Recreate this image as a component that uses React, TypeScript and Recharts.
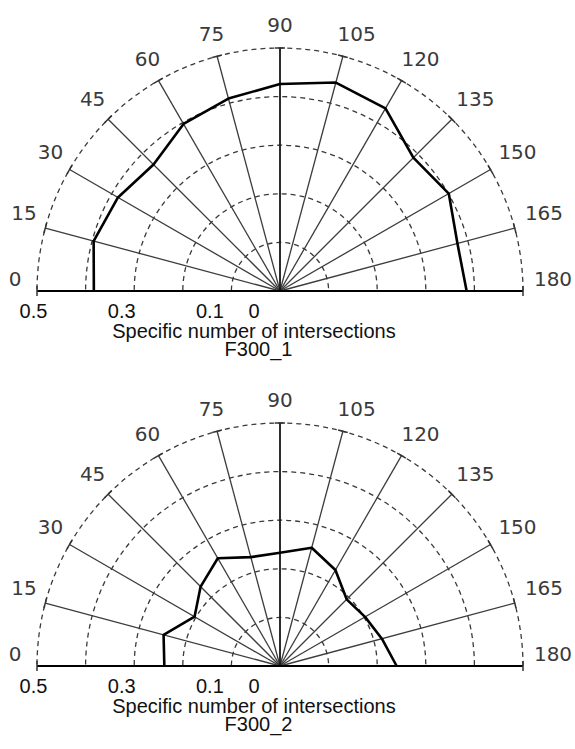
import React from 'react';
import { RadarChart, Radar, PolarGrid, PolarAngleAxis, PolarRadiusAxis } from 'recharts';

const angles = [0, 15, 30, 45, 60, 75, 90, 105, 120, 135, 150, 165, 180];
const f300_1 = [0.383, 0.397, 0.385, 0.368, 0.397, 0.41, 0.426, 0.444, 0.434, 0.388, 0.401, 0.378, 0.384];
const f300_2 = [0.238, 0.248, 0.203, 0.231, 0.256, 0.232, 0.233, 0.252, 0.228, 0.194, 0.202, 0.217, 0.24];
const angleTicks = [0, 15, 30, 45, 60, 75, 90, 105, 120, 135, 150, 165, 180];
const radiusTicks = [0, 0.1, 0.2, 0.3, 0.4, 0.5];
const radiusLabels = [0, 0.1, 0.3, 0.5];
const axisTitle = 'Specific number of intersections';
const panelTitles = ['F300_1', 'F300_2'];

const TICK = 8;
const SANS = '"Liberation Sans", Arial, sans-serif';

const AngleTick = (props: any) => {
  const { x, y, payload } = props;
  const a = (payload.coordinate * Math.PI) / 180;
  const ux = Math.cos(a);
  const uy = -Math.sin(a);
  const px = x - TICK * ux;
  const py = y - TICK * uy;
  const nx = -uy;
  const ny = ux;
  const lx = px + 22 * ux + (ux > 0.01 ? 8 : 0);
  const ly = py - 12 + 11 * uy;
  return (
    <g>
      <path
        d={`M${px - 5 * nx},${py - 5 * ny}L${px + 5 * nx},${py + 5 * ny}`}
        fill="none"
        stroke="#333"
        strokeWidth={1.5}
      />
      <text x={lx} y={ly} textAnchor="middle" dominantBaseline="central" fontFamily='"DejaVu Sans", sans-serif' fontSize={20} fill="#3a3a3a">
        {payload.value}
      </text>
    </g>
  );
};

const RadiusTick = (props: any) => {
  const { x, y, payload } = props;
  const v = payload.value;
  if (!radiusLabels.includes(v)) return <g />;
  return (
    <text x={x - 26 + 45 * v} y={y + 26.5} textAnchor="middle" fontFamily={SANS} fontSize={20} fill="#111">
      {String(v)}
    </text>
  );
};

const OpenLine = (props: any) => {
  const pts = props.points || [];
  const d = pts.map((p: any, i: number) => `${i ? 'L' : 'M'}${p.x},${p.y}`).join(' ');
  return <path d={d} fill="none" stroke="#000" strokeWidth={2.6} strokeLinejoin="round" />;
};

function Panel({ values, title, top }: { values: number[]; title: string; top: number }) {
  const data = angles.map((a, i) => ({ angle: a, value: values[i] }));
  return (
    <div style={{ position: 'absolute', left: 0, top, width: 575, height: 372 }}>
      <RadarChart
        width={575}
        height={372}
        data={data}
        cx={280}
        cy={291}
        outerRadius={243}
        startAngle={180}
        endAngle={0}
        margin={{ top: 0, right: 0, bottom: 0, left: 0 }}
      >
        <PolarGrid
          gridType="circle"
          radialLines={false}
          stroke="#3a3a3a"
          strokeWidth={1.3}
          strokeDasharray="5 4"
          clipPath="url(#upperHalf)"
        />
        <PolarGrid gridType="circle" polarRadius={[0]} stroke="#3c3c3c" strokeWidth={1.3} />
        <PolarGrid gridType="circle" polarRadius={[0]} polarAngles={[90]} stroke="#111" strokeWidth={1.5} />
        <PolarGrid gridType="circle" polarRadius={[0]} polarAngles={[0, 180]} stroke="#000" strokeWidth={2} />
        <PolarAngleAxis
          dataKey="angle"
          type="number"
          domain={[0, 180]}
          ticks={angleTicks}
          tickSize={TICK}
          axisLine={false}
          tickLine={false}
          tick={AngleTick}
        />
        <PolarRadiusAxis
          angle={180}
          type="number"
          domain={[0, 0.5]}
          allowDataOverflow
          allowDecimals
          tickCount={6}
          ticks={radiusTicks}
          axisLine={false}
          tickLine={false}
          tick={RadiusTick}
        />
        <Radar dataKey="value" stroke="#000" fill="none" isAnimationActive={false} dot={false} shape={OpenLine} />
      </RadarChart>
      <svg width={575} height={372} style={{ position: 'absolute', left: 0, top: 0, pointerEvents: 'none' }}>
        <text x={254} y={337.5} textAnchor="middle" fontFamily={SANS} fontSize={20} fill="#111">
          {axisTitle}
        </text>
        <text x={258.5} y={356} textAnchor="middle" fontFamily={SANS} fontSize={20} fill="#111">
          {title}
        </text>
      </svg>
    </div>
  );
}

export default function App() {
  return (
    <div style={{ position: 'absolute', left: 0, top: 0, width: 575, height: 749, overflow: 'hidden', background: '#fff' }}>
      <svg width={0} height={0} style={{ position: 'absolute' }}>
        <defs>
          <clipPath id="upperHalf" clipPathUnits="objectBoundingBox">
            <rect x={-0.05} y={-0.05} width={1.1} height={0.55} />
          </clipPath>
        </defs>
      </svg>
      <Panel values={f300_1} title={panelTitles[0]} top={0} />
      <Panel values={f300_2} title={panelTitles[1]} top={375} />
    </div>
  );
}
